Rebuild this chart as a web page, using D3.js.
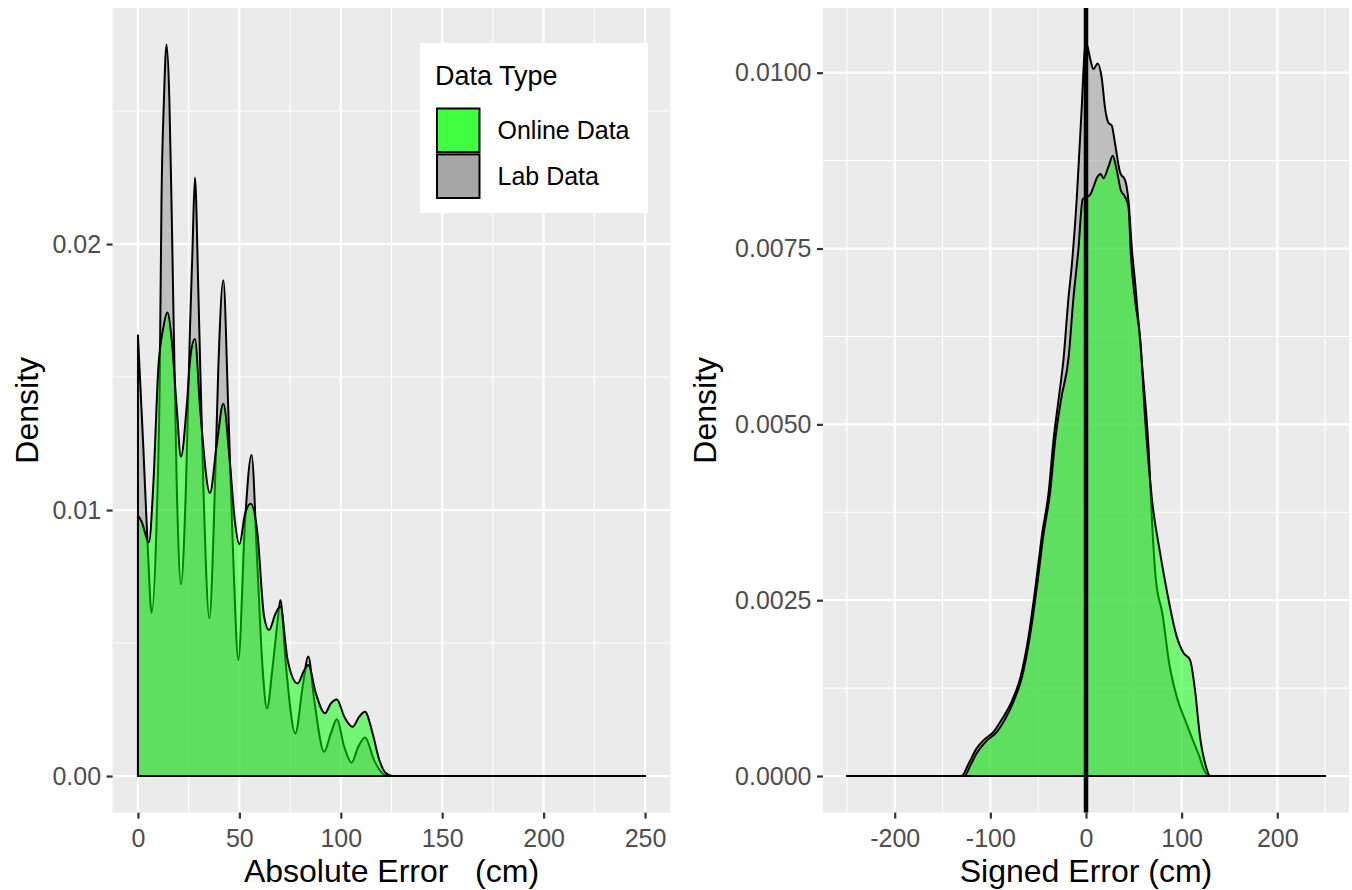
<!DOCTYPE html>
<html>
<head>
<meta charset="utf-8">
<script src="https://cdn.jsdelivr.net/npm/d3@7"></script>
<style>
  body { margin: 0; background: #fff; }
  text { font-family: 'Liberation Sans', Arial, sans-serif; }
</style>
</head>
<body>
<svg id="chart" width="1352" height="890"></svg>
<script>
// tick values
const absTicks = [0, 50, 100, 150, 200, 250];
const absMinor = [25, 75, 125, 175, 225];
const absDensityTicks = [0, 0.01, 0.02];
const absDensityMinor = [0.005, 0.015, 0.025];
const signedTicks = [-200, -100, 0, 100, 200];
const signedMinor = [-250, -150, -50, 50, 150, 250];
const signedDensityTicks = [0, 0.0025, 0.005, 0.0075, 0.01];
const signedDensityMinor = [0.00125, 0.00375, 0.00625, 0.00875];

const legendLabels = ['Online Data', 'Lab Data'];

// density curves: [error, density]
const absLab = [
  [0, 0.01657], [2.6, 0.01243], [5.1, 0.00814], [6.7, 0.00614], [9.2, 0.00957],
  [10.8, 0.01529], [11.6, 0.0216], [12.8, 0.0254], [14.1, 0.0275], [15.5, 0.0254],
  [16.8, 0.0205], [19.1, 0.011], [21.2, 0.00721], [23.7, 0.011], [25.6, 0.01671],
  [26.8, 0.01957], [28.1, 0.0225], [29.8, 0.01814], [32.2, 0.011], [35.2, 0.00593],
  [38, 0.011], [39.6, 0.01529], [42.1, 0.01864], [44.5, 0.01386], [47, 0.00814],
  [49.5, 0.00436], [52.8, 0.00957], [56, 0.01207], [58.9, 0.00787], [61.4, 0.00411],
  [63.6, 0.00254], [66.4, 0.00411], [68.9, 0.00586], [70.2, 0.00662], [73, 0.00411],
  [77.6, 0.0016], [81.2, 0.00336], [84, 0.00449], [86.9, 0.00286], [91.8, 0.00091],
  [95.1, 0.0016], [98.1, 0.00213], [101.7, 0.0011], [105.3, 0.0005], [108.6, 0.0011],
  [112, 0.00145], [116.4, 0.0006], [120.5, 0.0001], [123, 0], [250, 0],
];
const absOnline = [
  [0, 0.00979], [1.8, 0.00957], [5.4, 0.00879], [7.6, 0.011], [10, 0.01529],
  [12.5, 0.01686], [14.5, 0.01743], [16.6, 0.01643], [19.1, 0.01386], [21.2, 0.012],
  [24, 0.01386], [26, 0.01586], [28.1, 0.01643], [30.6, 0.01386], [35.5, 0.01064],
  [38.8, 0.01243], [42.1, 0.014], [45.4, 0.01171], [47.8, 0.00957], [50, 0.00871],
  [52.8, 0.00986], [55.6, 0.01024], [58.9, 0.00913], [62.2, 0.00599], [64.6, 0.00549],
  [67.9, 0.00612], [70.2, 0.00637], [73.8, 0.00436], [78.7, 0.00348], [82, 0.00398],
  [84, 0.00417], [87.7, 0.00311], [92.2, 0.00236], [95.1, 0.00273], [98.1, 0.00288],
  [101.7, 0.00223], [105.8, 0.00185], [109.1, 0.00223], [111.9, 0.00242], [115.7, 0.0016],
  [119, 0.0006], [122.3, 0.0001], [125.6, 0], [250, 0],
];
const signedLab = [
  [-250, 0], [-130, 0], [-122.6, 0.00018], [-114, 0.0004], [-107, 0.00051],
  [-96.5, 0.00063], [-87.8, 0.00081], [-77.4, 0.00107], [-68.6, 0.0014], [-59.9, 0.002],
  [-53, 0.00267], [-46, 0.00343], [-39, 0.00404], [-33.8, 0.0048], [-28.6, 0.00536],
  [-23.3, 0.00596], [-18.5, 0.00677], [-14.6, 0.0073], [-9.8, 0.00818], [-4.5, 0.0095],
  [-1, 0.01035], [0.7, 0.0104], [4.2, 0.01021], [7.7, 0.01005], [12.2, 0.01013],
  [16.4, 0.00993], [19.9, 0.0095], [23.4, 0.00929], [26.9, 0.00925], [30.4, 0.00899],
  [35.7, 0.00858], [40.9, 0.00847], [44.4, 0.00818], [48, 0.00749], [51.6, 0.00698],
  [58.5, 0.00586], [65.5, 0.00464], [69.5, 0.0035], [73, 0.0028], [80, 0.0023],
  [87, 0.0016], [95, 0.00112], [105, 0.00075], [112, 0.0005], [118, 0.0003],
  [123, 0.0001], [129, 0], [250, 0],
];
const signedOnline = [
  [-250, 0], [-127, 0], [-121, 0.00015], [-114, 0.00033], [-104, 0.0005],
  [-93, 0.00063], [-85, 0.0008], [-75.5, 0.00107], [-67, 0.0014], [-58.5, 0.002],
  [-51.5, 0.00267], [-44.5, 0.00343], [-37.5, 0.00404], [-32, 0.0048], [-26, 0.00536],
  [-18.1, 0.00596], [-13.3, 0.00677], [-8, 0.00748], [-3.5, 0.0082], [0, 0.00823],
  [4, 0.00826], [7.7, 0.00837], [11.2, 0.0085], [15.4, 0.00856], [18.2, 0.0085],
  [23.4, 0.00866], [28, 0.00882], [32.2, 0.00861], [36.4, 0.00833], [41, 0.00823],
  [44.4, 0.00809], [47, 0.0074], [51, 0.0068], [56.8, 0.0062], [62, 0.00505],
  [69, 0.00393], [77.5, 0.00317], [85, 0.0026], [94.5, 0.002], [102, 0.00175],
  [108.8, 0.00165], [114, 0.00122], [119.2, 0.00056], [124.5, 0.00018], [130, 0],
  [250, 0],
];

const colors = {
  panel: '#EBEBEB',
  online: '#00FF00',
  lab: '#919191',
  onlineKey: '#40FF40',
  labKey: '#A6A6A6',
  tickText: '#4D4D4D',
  tick: '#333333',
};

const svg = d3.select('#chart');
const panelTop = 8;
const panelBottom = 812.6;

const drawPanel = ({
  left, right, xDomain, yDomain, xTicks, xMinor, yTicks, yMinor, yFormat,
  lab, online, xTitle, yTitleX,
}) => {
  const x = d3.scaleLinear().domain(xDomain).range([left, right]);
  const y = d3.scaleLinear().domain(yDomain).range([panelBottom, panelTop]);
  const g = svg.append('g');

  g.append('rect')
    .attr('x', left).attr('y', panelTop)
    .attr('width', right - left).attr('height', panelBottom - panelTop)
    .attr('fill', colors.panel);

  // grid
  g.selectAll('.vminor').data(xMinor).join('line')
    .attr('x1', d => x(d)).attr('x2', d => x(d))
    .attr('y1', panelTop).attr('y2', panelBottom)
    .attr('stroke', '#fff').attr('stroke-width', 1.1);
  g.selectAll('.hminor').data(yMinor).join('line')
    .attr('y1', d => y(d)).attr('y2', d => y(d))
    .attr('x1', left).attr('x2', right)
    .attr('stroke', '#fff').attr('stroke-width', 1.1);
  g.selectAll('.vmajor').data(xTicks).join('line')
    .attr('x1', d => x(d)).attr('x2', d => x(d))
    .attr('y1', panelTop).attr('y2', panelBottom)
    .attr('stroke', '#fff').attr('stroke-width', 2.2);
  g.selectAll('.hmajor').data(yTicks).join('line')
    .attr('y1', d => y(d)).attr('y2', d => y(d))
    .attr('x1', left).attr('x2', right)
    .attr('stroke', '#fff').attr('stroke-width', 2.2);

  const area = d3.area()
    .x(d => x(d[0]))
    .y0(y(0))
    .y1(d => y(d[1]))
    .curve(d3.curveMonotoneX);

  // lab first, online on top
  g.append('path')
    .attr('d', area(lab))
    .attr('fill', colors.lab).attr('fill-opacity', 0.5)
    .attr('stroke', '#000').attr('stroke-width', 2).attr('stroke-linejoin', 'round');
  g.append('path')
    .attr('d', area(online))
    .attr('fill', colors.online).attr('fill-opacity', 0.5)
    .attr('stroke', '#000').attr('stroke-width', 2).attr('stroke-linejoin', 'round');

  // axes
  const xAxis = d3.axisBottom(x).tickValues(xTicks).tickSize(6).tickPadding(10.5)
    .tickFormat(d => String(d));
  const gx = g.append('g').attr('transform', `translate(0,${panelBottom})`).call(xAxis);
  const yAxis = d3.axisLeft(y).tickValues(yTicks).tickSize(6).tickPadding(5.5)
    .tickFormat(yFormat);
  const gy = g.append('g').attr('transform', `translate(${left},0)`).call(yAxis);

  [gx, gy].forEach(a => {
    a.select('.domain').remove();
    a.selectAll('.tick line').attr('stroke', colors.tick).attr('stroke-width', 2.2);
    a.selectAll('.tick text')
      .attr('fill', colors.tickText)
      .style('font-size', '25px')
      .style('font-family', "'Liberation Sans', Arial, sans-serif");
  });

  g.append('text')
    .attr('x', (left + right) / 2).attr('y', 882)
    .attr('text-anchor', 'middle')
    .style('font-size', '32px')
    .style('white-space', 'pre')
    .text(xTitle);

  g.append('text')
    .attr('transform', `translate(${yTitleX},${(panelTop + panelBottom) / 2}) rotate(-90)`)
    .attr('text-anchor', 'middle')
    .style('font-size', '32px')
    .text('Density');

  return { g, x, y };
};

drawPanel({
  left: 112.6,
  right: 670.4,
  xDomain: [-12.5, 262.5],
  yDomain: [-0.001375, 0.028875],
  xTicks: absTicks,
  xMinor: absMinor,
  yTicks: absDensityTicks,
  yMinor: absDensityMinor,
  yFormat: d3.format('.2f'),
  lab: absLab,
  online: absOnline,
  xTitle: 'Absolute Error   (cm)',
  yTitleX: 38,
});

const signed = drawPanel({
  left: 823,
  right: 1349,
  xDomain: [-275, 275],
  yDomain: [-0.00052, 0.01092],
  xTicks: signedTicks,
  xMinor: signedMinor,
  yTicks: signedDensityTicks,
  yMinor: signedDensityMinor,
  yFormat: d3.format('.4f'),
  lab: signedLab,
  online: signedOnline,
  xTitle: 'Signed Error (cm)',
  yTitleX: 716,
});

// reference line at zero error
signed.g.append('line')
  .attr('x1', signed.x(0)).attr('x2', signed.x(0))
  .attr('y1', panelTop).attr('y2', panelBottom)
  .attr('stroke', '#000').attr('stroke-width', 4.5);

// legend
const legend = svg.append('g').attr('transform', 'translate(420,43)');
legend.append('rect')
  .attr('width', 228).attr('height', 170)
  .attr('fill', '#fff');
legend.append('text')
  .attr('x', 15).attr('y', 42)
  .style('font-size', '27px')
  .text('Data Type');

const keyY = d3.scaleBand().domain(legendLabels).range([65.5, 155]).paddingInner(0.05);
const keyColors = [colors.onlineKey, colors.labKey];

legend.selectAll('.key').data(legendLabels).join('rect')
  .attr('x', 17).attr('y', d => keyY(d))
  .attr('width', 42.5).attr('height', keyY.bandwidth())
  .attr('fill', (d, i) => keyColors[i])
  .attr('stroke', '#000').attr('stroke-width', 2);

legend.selectAll('.label').data(legendLabels).join('text')
  .attr('x', 77.5).attr('y', d => keyY(d) + keyY.bandwidth() / 2 + 9)
  .style('font-size', '25px')
  .text(d => d);
</script>
</body>
</html>
